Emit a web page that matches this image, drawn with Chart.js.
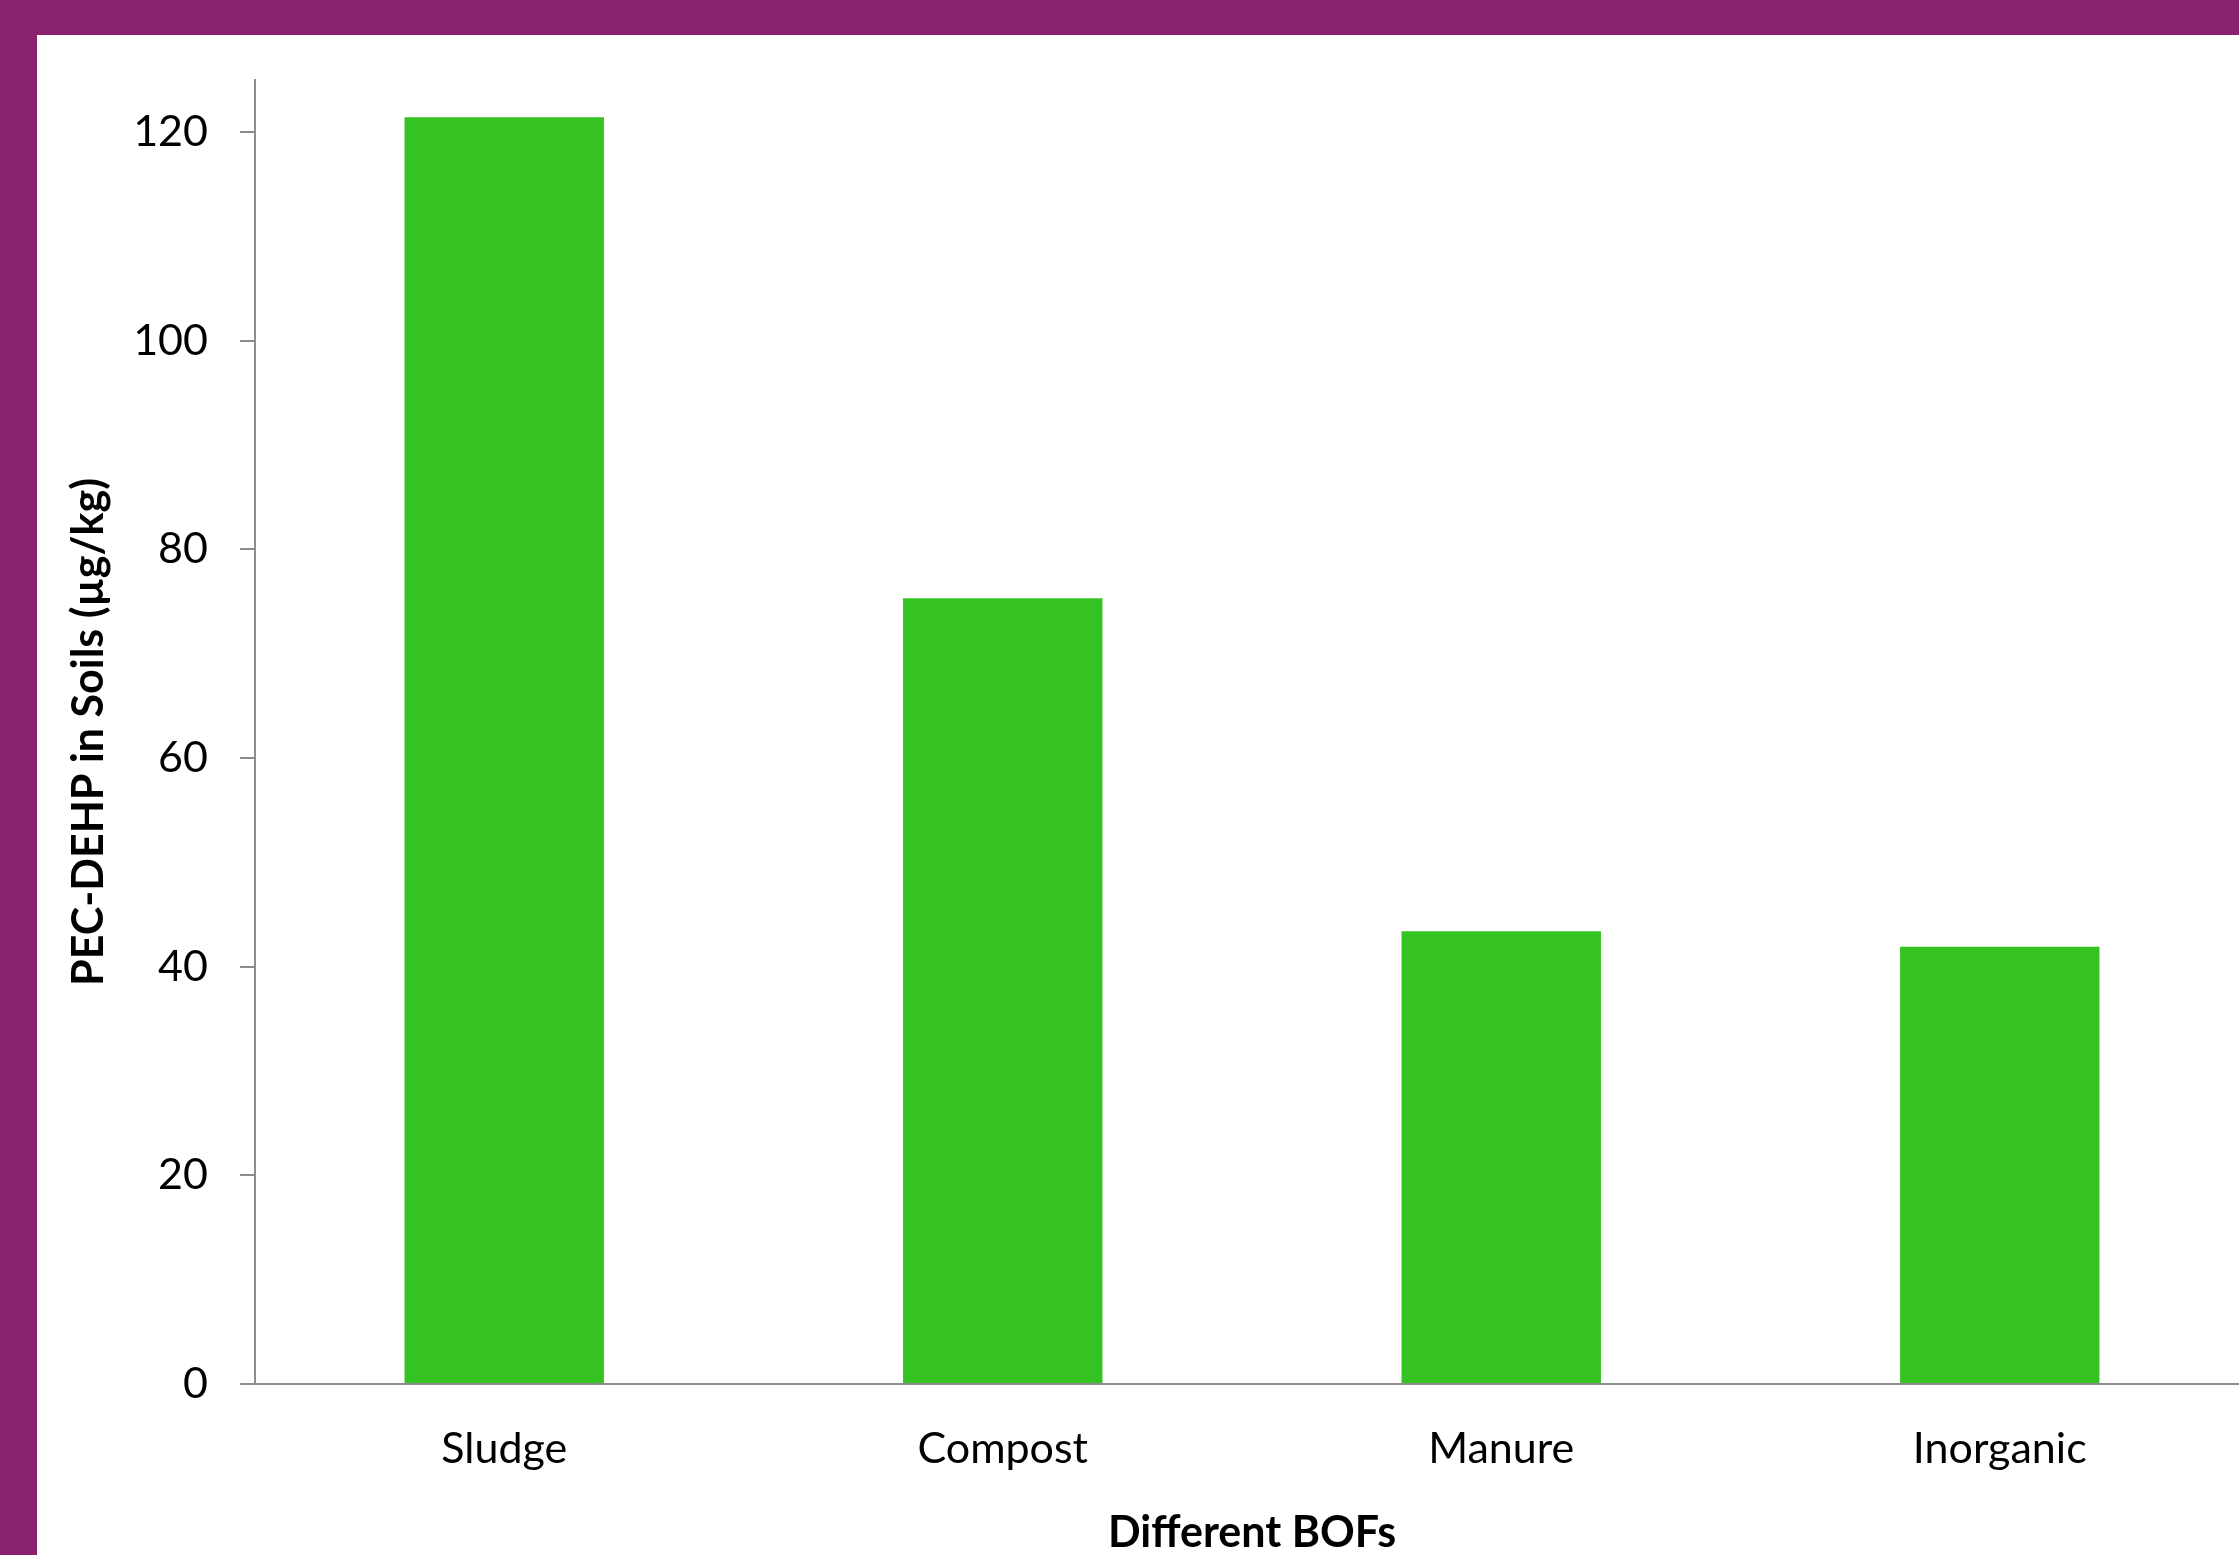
<!DOCTYPE html>
<html>
<head>
<meta charset="utf-8">
<script src="https://cdn.jsdelivr.net/npm/chart.js@4"></script>
<style>
  html, body { margin: 0; padding: 0; overflow: hidden; }
  body { width: 2239px; height: 1555px; background: #89216f; position: relative; }
  #panel { position: absolute; left: 37px; top: 35px; right: 0; bottom: 0; background: #ffffff; }
  #bofChart { position: absolute; left: 37px; top: 22px; }
</style>
</head>
<body>
<div id="panel"></div>
<canvas id="bofChart" width="2230" height="1553"></canvas>
<script>
// data
const categories = ['Sludge', 'Compost', 'Manure', 'Inorganic'];
const pecValues = [121.4, 75.3, 43.4, 41.9];
const yTickStep = 20;
const yMax = 125;

const font = 'Lato, "Open Sans", sans-serif';
const axisGray = '#8c8c8c';

const ctx = document.getElementById('bofChart').getContext('2d');

const bofChart = new Chart(ctx, {
  type: 'bar',
  data: {
    labels: categories,
    datasets: [
      {
        label: 'PEC-DEHP',
        data: pecValues,
        backgroundColor: '#35c323',
        borderWidth: 0,
        categoryPercentage: 0.8,
        barPercentage: 0.5,
      },
    ],
  },
  options: {
    responsive: false,
    animation: false,
    devicePixelRatio: 1,
    layout: {
      padding: { top: 30, right: 18, left: 0, bottom: 0 },
    },
    plugins: {
      legend: { display: false },
      tooltip: { enabled: false },
    },
    scales: {
      x: {
        grid: { drawOnChartArea: false, drawTicks: false },
        border: { color: axisGray, width: 2 },
        ticks: {
          color: '#000000',
          padding: 39,
          font: { family: font, size: 43 },
        },
        title: {
          display: true,
          text: 'Different BOFs',
          color: '#000000',
          padding: { top: 0, bottom: 16 },
          font: { family: font, size: 43, weight: 'bold' },
        },
        afterFit: (scale) => { scale.height = 191; },
      },
      y: {
        min: 0,
        max: yMax,
        grid: { drawOnChartArea: false, color: axisGray, tickLength: 15, lineWidth: 2 },
        border: { color: axisGray, width: 2 },
        ticks: {
          stepSize: yTickStep,
          color: '#000000',
          padding: 32,
          font: { family: font, size: 43 },
        },
        afterBuildTicks: (scale) => {
          // keep only the multiples of the step, no tick at the top bound
          scale.ticks = scale.ticks.filter(t => t.value % yTickStep === 0);
        },
        title: {
          display: true,
          text: 'PEC-DEHP in Soils (µg/kg)',
          color: '#000000',
          padding: { top: 26, bottom: 0 },
          font: { family: font, size: 43, weight: 'bold' },
        },
        afterFit: (scale) => { scale.width = 218; },
      },
    },
  },
});
</script>
</body>
</html>
